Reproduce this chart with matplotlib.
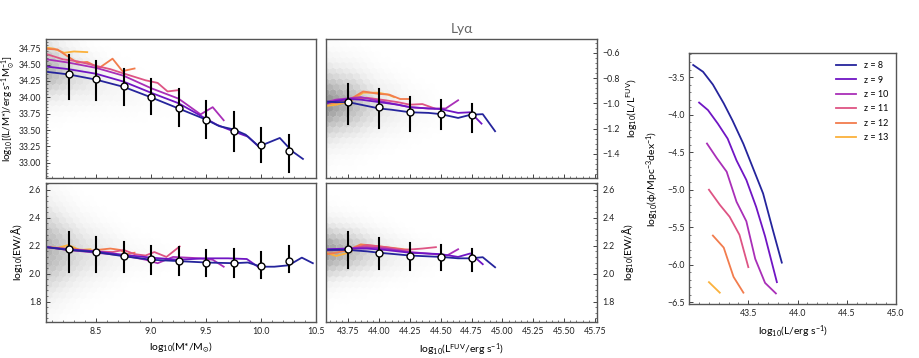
import numpy as np
import matplotlib
matplotlib.use('Agg')
import matplotlib.pyplot as plt
from matplotlib.ticker import AutoMinorLocator, MultipleLocator

plt.rcParams['font.family'] = ['Lato', 'DejaVu Sans']
plt.rcParams['mathtext.default'] = 'regular'

redshifts = [8, 9, 10, 11, 12, 13]
z_colors = ['#25249c', '#7015c4', '#a92fb8', '#de5484', '#f27c4d', '#fbb13c']

# binned medians (white circles) with 16-84 range
mass_bins = [8.25, 8.5, 8.75, 9.0, 9.25, 9.5, 9.75, 10.0, 10.25]
lm_med = [34.36, 34.28, 34.17, 34.01, 33.84, 33.66, 33.48, 33.28, 33.18]
lm_hi = [34.65, 34.56, 34.43, 34.28, 34.13, 33.94, 33.78, 33.53, 33.43]
lm_lo = [33.98, 33.96, 33.89, 33.75, 33.57, 33.38, 33.18, 33.01, 32.86]
ewm_med = [2.175, 2.155, 2.127, 2.103, 2.094, 2.08, 2.075, 2.055, 2.094]
ewm_hi = [2.30, 2.26, 2.225, 2.20, 2.19, 2.17, 2.175, 2.155, 2.20]
ewm_lo = [2.01, 2.015, 2.01, 1.996, 1.99, 1.98, 1.975, 1.97, 2.01]

fuv_bins = [43.75, 44.0, 44.25, 44.5, 44.75]
lf_med = [-0.99, -1.03, -1.07, -1.08, -1.09]
lf_hi = [-0.848, -0.888, -0.946, -0.972, -1.006]
lf_lo = [-1.163, -1.196, -1.215, -1.204, -1.223]
ewf_med = [2.175, 2.15, 2.127, 2.118, 2.11]
ewf_hi = [2.297, 2.258, 2.222, 2.204, 2.177]
ewf_lo = [2.044, 2.034, 2.027, 2.027, 2.022]

# per-redshift median lines: L/M* vs M*
lm_x = [
    [8.05, 8.25, 8.5, 8.75, 9.0, 9.25, 9.5, 9.62, 9.75, 9.86, 9.98, 10.17, 10.28, 10.38],
    [8.05, 8.25, 8.5, 8.75, 9.0, 9.25, 9.45, 9.6, 9.75, 9.88, 9.97],
    [8.05, 8.25, 8.5, 8.75, 9.0, 9.25, 9.45, 9.56, 9.66],
    [8.05, 8.2, 8.33, 8.5, 8.63, 8.74, 8.95, 9.06, 9.15, 9.25],
    [8.05, 8.15, 8.22, 8.33, 8.42, 8.53, 8.65, 8.74, 8.85],
    [8.05, 8.12, 8.21, 8.3, 8.42],
]
lm_y = [
    [34.39, 34.35, 34.27, 34.16, 34.0, 33.83, 33.66, 33.56, 33.51, 33.43, 33.25, 33.38, 33.18, 33.06],
    [34.47, 34.43, 34.36, 34.24, 34.07, 33.91, 33.72, 33.58, 33.48, 33.40, 33.26],
    [34.58, 34.53, 34.45, 34.33, 34.14, 33.98, 33.74, 33.85, 33.65],
    [34.66, 34.58, 34.55, 34.48, 34.43, 34.37, 34.26, 34.22, 34.09, 34.11],
    [34.74, 34.73, 34.65, 34.53, 34.54, 34.45, 34.59, 34.40, 34.44],
    [34.76, 34.74, 34.68, 34.70, 34.69],
]

# L/L_FUV vs L_FUV
lf_x = [
    [43.57, 43.65, 43.75, 43.85, 44.0, 44.1, 44.25, 44.4, 44.5, 44.64, 44.74, 44.84, 44.94],
    [43.57, 43.65, 43.75, 43.85, 44.0, 44.15, 44.25, 44.4, 44.5, 44.64, 44.74, 44.83],
    [43.57, 43.65, 43.75, 43.85, 44.0, 44.15, 44.25, 44.4, 44.54, 44.64],
    [43.57, 43.65, 43.75, 43.9, 44.05, 44.15, 44.25, 44.35, 44.45],
    [43.57, 43.65, 43.75, 43.87, 44.0, 44.08, 44.17, 44.25],
    [43.57, 43.65, 43.76, 43.87, 43.99, 44.07, 44.12],
]
lf_y = [
    [-0.985, -0.99, -0.99, -1.01, -1.04, -1.05, -1.07, -1.075, -1.085, -1.115, -1.09, -1.085, -1.22],
    [-1.0, -0.98, -0.965, -0.97, -0.99, -1.01, -1.03, -1.04, -1.045, -1.075, -1.07, -1.16],
    [-0.99, -0.97, -0.96, -0.95, -0.98, -1.01, -1.03, -1.04, -1.04, -0.975],
    [-0.99, -0.98, -0.97, -0.955, -0.975, -0.99, -1.01, -1.005, -1.04],
    [-1.0, -0.995, -0.975, -0.905, -0.925, -0.93, -0.965, -0.965],
    [-1.02, -1.01, -0.985, -0.915, -0.915, -0.93, -0.95],
]

# EW vs M*
ewm_x = [
    [8.05, 8.25, 8.5, 8.75, 9.0, 9.25, 9.5, 9.75, 9.88, 10.0, 10.12, 10.25, 10.37, 10.47],
    [8.05, 8.25, 8.5, 8.75, 9.0, 9.25, 9.5, 9.7, 9.87, 9.97],
    [8.05, 8.25, 8.5, 8.75, 8.95, 9.06, 9.2, 9.45, 9.56, 9.66],
    [8.05, 8.25, 8.5, 8.65, 8.75, 8.85, 8.95, 9.03, 9.14, 9.26],
    [8.05, 8.25, 8.45, 8.63, 8.72, 8.78, 8.85],
    [8.05, 8.15, 8.25, 8.35, 8.45],
]
ewm_y = [
    [2.19, 2.17, 2.155, 2.125, 2.10, 2.09, 2.08, 2.075, 2.08, 2.05, 2.05, 2.06, 2.115, 2.075],
    [2.19, 2.175, 2.16, 2.135, 2.115, 2.10, 2.11, 2.11, 2.105, 2.05],
    [2.19, 2.17, 2.15, 2.13, 2.10, 2.075, 2.12, 2.11, 2.10, 2.05],
    [2.19, 2.17, 2.16, 2.155, 2.17, 2.14, 2.13, 2.155, 2.12, 2.195],
    [2.19, 2.18, 2.165, 2.18, 2.17, 2.14, 2.15],
    [2.19, 2.185, 2.205, 2.17, 2.175],
]

# EW vs L_FUV
ewf_x = [
    [43.57, 43.75, 43.9, 44.0, 44.25, 44.5, 44.64, 44.74, 44.84, 44.94],
    [43.57, 43.75, 43.9, 44.05, 44.25, 44.5, 44.64, 44.74, 44.84],
    [43.57, 43.75, 43.9, 44.05, 44.25, 44.45, 44.55, 44.64],
    [43.57, 43.75, 43.9, 44.05, 44.2, 44.35, 44.46],
    [43.57, 43.65, 43.75, 43.85, 44.06, 44.25],
    [43.57, 43.65, 43.75, 43.85, 44.0, 44.1],
]
ewf_y = [
    [2.17, 2.17, 2.16, 2.15, 2.13, 2.12, 2.11, 2.11, 2.118, 2.046],
    [2.175, 2.18, 2.18, 2.17, 2.15, 2.14, 2.12, 2.145, 2.068],
    [2.17, 2.18, 2.19, 2.18, 2.155, 2.14, 2.13, 2.175],
    [2.165, 2.175, 2.205, 2.19, 2.17, 2.18, 2.19],
    [2.14, 2.15, 2.17, 2.21, 2.19, 2.17],
    [2.15, 2.127, 2.15, 2.2, 2.19, 2.18],
]

# luminosity function
lumf_x = [
    [42.94, 43.04, 43.14, 43.25, 43.34, 43.45, 43.55, 43.65, 43.75, 43.84],
    [43.0, 43.09, 43.19, 43.29, 43.38, 43.48, 43.58, 43.67, 43.79],
    [43.08, 43.18, 43.28, 43.38, 43.48, 43.57, 43.67, 43.78],
    [43.10, 43.21, 43.31, 43.41, 43.50],
    [43.14, 43.25, 43.35, 43.45],
    [43.10, 43.21],
]
lumf_y = [
    [-3.34, -3.43, -3.60, -3.85, -4.08, -4.39, -4.72, -5.05, -5.54, -5.97],
    [-3.84, -3.94, -4.12, -4.32, -4.61, -4.87, -5.23, -5.62, -6.23],
    [-4.385, -4.58, -4.76, -5.16, -5.42, -5.92, -6.24, -6.38],
    [-5.0, -5.20, -5.36, -5.60, -6.03],
    [-5.61, -5.77, -6.16, -6.37],
    [-6.23, -6.37],
]

# background density band: x nodes, centre, width, strength
bg_tl = ([8.0, 8.3, 8.6, 9.0, 9.4], [34.45, 34.35, 34.2, 34.0, 33.8], [0.32, 0.28, 0.24, 0.2, 0.18], [0.9, 0.45, 0.18, 0.05, 0.0])
bg_tr = ([43.55, 43.8, 44.0, 44.3, 44.6], [-1.0, -1.0, -1.02, -1.05, -1.08], [0.2, 0.18, 0.16, 0.13, 0.1], [1.0, 0.72, 0.35, 0.1, 0.0])
bg_bl = ([8.0, 8.4, 8.8, 9.3], [2.17, 2.15, 2.13, 2.1], [0.24, 0.16, 0.1, 0.06], [0.85, 0.4, 0.12, 0.0])
bg_br = ([43.55, 43.8, 44.0, 44.3, 44.6], [2.16, 2.16, 2.15, 2.13, 2.12], [0.14, 0.12, 0.11, 0.09, 0.07], [0.95, 0.68, 0.35, 0.1, 0.0])


def draw_background(ax, band, xlim, ylim):
    xn, cn, wn, an = band
    gx, gy = np.meshgrid(np.linspace(xlim[0], xlim[1], 260), np.linspace(ylim[0], ylim[1], 160))
    gx, gy = gx.ravel(), gy.ravel()
    c = np.interp(gx, xn, cn)
    w = np.interp(gx, xn, wn)
    a = np.interp(gx, xn, an)
    dens = a * np.exp(-0.5 * ((gy - c) / w) ** 2)
    ax.hexbin(gx, gy, C=dens, gridsize=(40, 13), extent=(xlim[0], xlim[1], ylim[0], ylim[1]),
              cmap='Greys', vmin=0, vmax=1.9, reduce_C_function=np.mean,
              linewidths=0.2, edgecolors='face', zorder=0)


def style_axes(ax, right=False):
    for s in ax.spines.values():
        s.set_color('#555555')
        s.set_linewidth(1.0)
    ax.xaxis.set_minor_locator(AutoMinorLocator(5))
    ax.yaxis.set_minor_locator(AutoMinorLocator(5))
    ax.tick_params(which='both', direction='in', labelsize=6.3, colors='#444444', labelcolor='#222222')
    ax.tick_params(which='major', length=3, width=0.7)
    ax.tick_params(which='minor', length=1.5, width=0.5)
    if right:
        ax.yaxis.tick_right()
        ax.yaxis.set_label_position('right')


def draw_panel(ax, band, xlim, ylim, xs, ys, bins, med, hi, lo):
    draw_background(ax, band, xlim, ylim)
    for k in range(len(redshifts)):
        ax.plot(xs[k], ys[k], color=z_colors[k], lw=1.3, zorder=2 + (5 - k) * 0.01)
    for b, m, h, l in zip(bins, med, hi, lo):
        ax.plot([b, b], [l, h], color='black', lw=1.5, zorder=3)
    ax.plot(bins, med, 'o', ms=5, mfc='white', mec='black', mew=1.0, zorder=4)
    ax.set_xlim(xlim)
    ax.set_ylim(ylim)


fig = plt.figure(figsize=(9.19, 3.58), dpi=100)

ax_tl = fig.add_axes([0.050, 0.503, 0.294, 0.388])
ax_tr = fig.add_axes([0.355, 0.503, 0.295, 0.388])
ax_bl = fig.add_axes([0.050, 0.101, 0.294, 0.388])
ax_br = fig.add_axes([0.355, 0.101, 0.295, 0.388])
ax_lf = fig.add_axes([0.750, 0.151, 0.225, 0.701])

mass_lim = (8.045, 10.5)
fuv_lim = (43.57, 45.77)

draw_panel(ax_tl, bg_tl, mass_lim, (32.77, 34.89), lm_x, lm_y, mass_bins, lm_med, lm_hi, lm_lo)
draw_panel(ax_tr, bg_tr, fuv_lim, (-1.59, -0.49), lf_x, lf_y, fuv_bins, lf_med, lf_hi, lf_lo)
draw_panel(ax_bl, bg_bl, mass_lim, (1.655, 2.65), ewm_x, ewm_y, mass_bins, ewm_med, ewm_hi, ewm_lo)
draw_panel(ax_br, bg_br, fuv_lim, (1.655, 2.65), ewf_x, ewf_y, fuv_bins, ewf_med, ewf_hi, ewf_lo)

style_axes(ax_tl)
style_axes(ax_bl)
style_axes(ax_tr, right=True)
style_axes(ax_br, right=True)

ax_tl.yaxis.set_major_locator(MultipleLocator(0.25))
ax_tr.yaxis.set_major_locator(MultipleLocator(0.2))
for a in (ax_bl, ax_br):
    a.yaxis.set_major_locator(MultipleLocator(0.2))
for a in (ax_tl, ax_bl):
    a.xaxis.set_major_locator(MultipleLocator(0.5))
for a in (ax_tr, ax_br):
    a.xaxis.set_major_locator(MultipleLocator(0.25))
ax_tl.tick_params(labelbottom=False)
ax_tr.tick_params(labelbottom=False)

ax_tl.set_ylabel(r'log$_{10}$[(L/M*)/erg s$^{-1}$M$_{\odot}^{-1}$]', fontsize=7.0, labelpad=1.5)
ax_tr.set_ylabel(r'log$_{10}$(L/L$^{\rm FUV}$)', fontsize=7.5)
ax_bl.set_ylabel(r'log$_{10}$(EW/$\rm\AA$)', fontsize=7.5, labelpad=3)
ax_br.set_ylabel(r'log$_{10}$(EW/$\rm\AA$)', fontsize=7.5)
ax_bl.set_xlabel(r'log$_{10}$(M*/M$_{\odot}$)', fontsize=7.5)
ax_br.set_xlabel(r'log$_{10}$(L$^{\rm FUV}$/erg s$^{-1}$)', fontsize=7.5)
ax_tr.set_title('Ly\u03b1', fontsize=10, color='#666666', pad=4)

# luminosity function panel
for k, z in enumerate(redshifts):
    ax_lf.plot(lumf_x[k], lumf_y[k], color=z_colors[k], lw=1.3, label=f'z = {z}')
ax_lf.set_xlim(42.9, 45.0)
ax_lf.set_ylim(-6.52, -3.18)
style_axes(ax_lf)
ax_lf.xaxis.set_major_locator(MultipleLocator(0.5))
ax_lf.yaxis.set_major_locator(MultipleLocator(0.5))
ax_lf.set_xticks([43.5, 44.0, 44.5, 45.0])
ax_lf.xaxis.set_minor_locator(AutoMinorLocator(5))
ax_lf.set_xlabel(r'log$_{10}$(L/erg s$^{-1}$)', fontsize=7.5)
ax_lf.set_ylabel(r'log$_{10}$($\phi$/Mpc$^{-3}$dex$^{-1}$)', fontsize=7.5)
ax_lf.legend(loc='upper right', frameon=False, fontsize=6.5, handlelength=2.2, labelspacing=0.6)

fig.savefig('out.png', dpi=100)
